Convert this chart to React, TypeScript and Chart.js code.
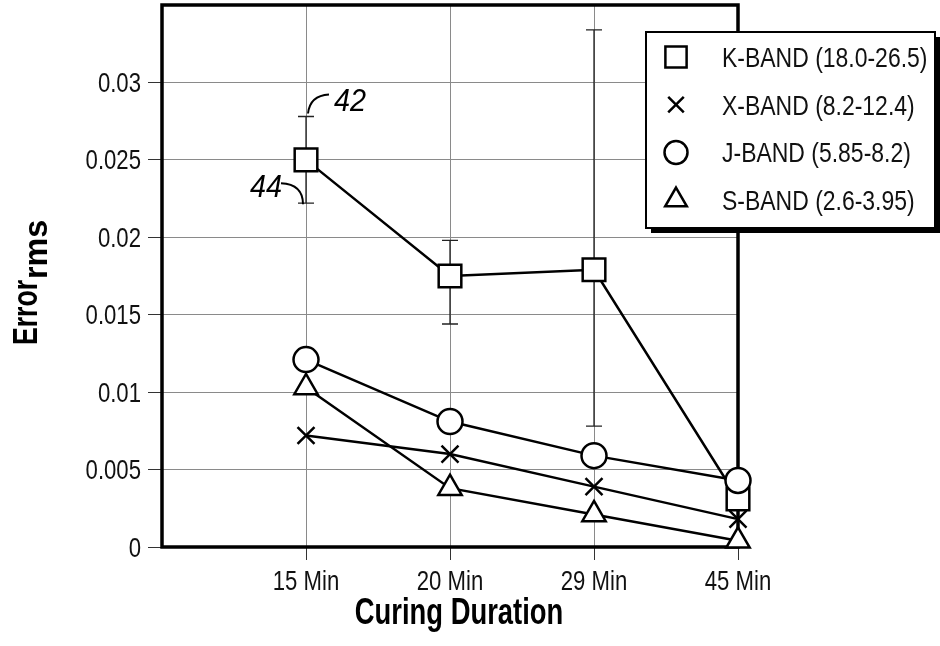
import React, { useEffect, useRef } from 'react';
import { Chart, registerables } from 'chart.js';
import { drawPoint } from 'chart.js/helpers';

Chart.register(...registerables);

const categories = ['15 Min', '20 Min', '29 Min', '45 Min'];
const kBand = [0.025, 0.0175, 0.0179, 0.0031];
const xBand = [0.0072, 0.006, 0.0039, 0.0018];
const jBand = [0.0121, 0.0081, 0.0059, 0.0043];
const sBand = [0.0103, 0.0038, 0.0021, 0.0004];
const kErrLow: (number | null)[] = [0.0222, 0.0144, 0.0078, null];
const kErrHigh: (number | null)[] = [0.0278, 0.0198, 0.0334, null];
const seriesNames = ['K-BAND (18.0-26.5)', 'X-BAND (8.2-12.4)', 'J-BAND (5.85-8.2)', 'S-BAND (2.6-3.95)'];
const yTicks = [0, 0.005, 0.01, 0.015, 0.02, 0.025, 0.03];
const yTickLabels = ['0', '0.005', '0.01', '0.015', '0.02', '0.025', '0.03'];
const yMax = 0.035;
const xTitle = 'Curing Duration';
const yTitleMain = 'Error';
const yTitleSub = 'rms';
const callouts = ['42', '44'];

const FONT = '"Liberation Sans", Arial, sans-serif';

const styles = [
  { pointStyle: 'rect', radius: 16 },
  { pointStyle: 'crossRot', radius: 12 },
  { pointStyle: 'circle', radius: 12.5 },
  { pointStyle: 'triangle', radius: 13.5 },
];
const seriesValues = [kBand, xBand, jBand, sBand];
const orders = [4, 3, 1, 2];

function drawScaled(ctx: CanvasRenderingContext2D, text: string, x: number, y: number, align: CanvasTextAlign, font: string, sx: number) {
  ctx.save();
  ctx.translate(x, y);
  ctx.scale(sx, 1);
  ctx.font = font;
  ctx.textAlign = align;
  ctx.textBaseline = 'alphabetic';
  ctx.fillText(text, 0, 0);
  ctx.restore();
}

const framePlugin = {
  id: 'frameAndErrors',
  beforeDatasetsDraw(chart: any) {
    const { ctx, chartArea } = chart;
    const xs = chart.scales.x;
    const ys = chart.scales.y;
    ctx.save();
    ctx.strokeStyle = '#222';
    ctx.lineWidth = 1.3;
    for (let i = 0; i < categories.length; i++) {
      const lo = kErrLow[i];
      const hi = kErrHigh[i];
      if (lo == null || hi == null) continue;
      const x = xs.getPixelForValue(i + 1);
      const yl = ys.getPixelForValue(lo);
      const yh = ys.getPixelForValue(hi);
      ctx.beginPath();
      ctx.moveTo(x, yl);
      ctx.lineTo(x, yh);
      ctx.moveTo(x - 8, yl);
      ctx.lineTo(x + 8, yl);
      ctx.moveTo(x - 8, yh);
      ctx.lineTo(x + 8, yh);
      ctx.stroke();
    }
    ctx.strokeStyle = '#000';
    ctx.lineWidth = 3.5;
    ctx.strokeRect(chartArea.left, chartArea.top, chartArea.right - chartArea.left, chartArea.bottom - chartArea.top);
    ctx.restore();
  },
  afterDraw(chart: any) {
    const { ctx, chartArea } = chart;
    const xs = chart.scales.x;
    const ys = chart.scales.y;
    ctx.save();
    ctx.fillStyle = '#111';
    const tickFont = `27px ${FONT}`;
    yTicks.forEach((v, i) => {
      const y = ys.getPixelForValue(v);
      drawScaled(ctx, yTickLabels[i], chartArea.left - 21, y + 9.5, 'right', tickFont, 0.82);
    });
    categories.forEach((c, i) => {
      const x = xs.getPixelForValue(i + 1);
      drawScaled(ctx, c, x, chartArea.bottom + 43, 'center', tickFont, 0.82);
    });

    // callouts
    const x0 = xs.getPixelForValue(1);
    const yHi = ys.getPixelForValue(kErrHigh[0] as number);
    const yLo = ys.getPixelForValue(kErrLow[0] as number);
    ctx.strokeStyle = '#000';
    ctx.lineWidth = 2;
    ctx.beginPath();
    ctx.moveTo(x0 + 2, yHi - 3);
    ctx.quadraticCurveTo(x0 + 4, yHi - 21, x0 + 23, yHi - 22);
    ctx.stroke();
    ctx.beginPath();
    ctx.moveTo(x0 - 25, yLo - 20);
    ctx.quadraticCurveTo(x0 - 3, yLo - 19, x0 - 3, yLo + 1);
    ctx.stroke();
    ctx.fillStyle = '#000';
    drawScaled(ctx, callouts[0], x0 + 28, yHi - 5, 'left', `italic 32px ${FONT}`, 0.9);
    drawScaled(ctx, callouts[1], x0 - 24, yLo - 6, 'right', `italic 32px ${FONT}`, 0.9);

    // legend
    const bx = 646, by = 32, bw = 289, bh = 196;
    ctx.fillStyle = '#000';
    ctx.fillRect(bx + 5, by + 5, bw, bh);
    ctx.fillStyle = '#fff';
    ctx.fillRect(bx, by, bw, bh);
    ctx.strokeStyle = '#000';
    ctx.lineWidth = 2;
    ctx.strokeRect(bx, by, bw, bh);
    for (let i = 0; i < seriesNames.length; i++) {
      const cy = by + 25 + i * 47.7;
      ctx.fillStyle = '#fff';
      ctx.strokeStyle = '#000';
      ctx.lineWidth = 2.5;
      drawPoint(ctx, { pointStyle: styles[i].pointStyle as any, radius: i === 1 ? 11 : styles[i].radius - 1, rotation: 0, borderWidth: 2.5 }, bx + 30, cy);
      ctx.fillStyle = '#111';
      drawScaled(ctx, seriesNames[i], bx + 76, cy + 10, 'left', `28px ${FONT}`, 0.82);
    }

    // axis titles
    ctx.fillStyle = '#000';
    drawScaled(ctx, xTitle, 459, 624, 'center', `bold 37px ${FONT}`, 0.74);

    ctx.save();
    ctx.translate(37, 345);
    ctx.rotate(-Math.PI / 2);
    drawScaled(ctx, yTitleMain, 0, 0, 'left', `bold 35px ${FONT}`, 0.76);
    ctx.font = `bold 35px ${FONT}`;
    const w = ctx.measureText(yTitleMain).width * 0.76;
    drawScaled(ctx, yTitleSub, w + 1, 10, 'left', `bold 34px ${FONT}`, 0.95);
    ctx.restore();

    ctx.restore();
  },
};

export default function App() {
  const ref = useRef<HTMLCanvasElement | null>(null);
  useEffect(() => {
    document.body.style.margin = '0';
    const canvas = ref.current;
    if (!canvas) return;
    const datasets = seriesNames.map((name, s) => ({
      label: name,
      data: categories.map((_, i) => ({ x: i + 1, y: seriesValues[s][i] })),
      borderColor: '#000',
      borderWidth: 2.5,
      backgroundColor: '#fff',
      pointStyle: styles[s].pointStyle,
      pointRadius: styles[s].radius,
      pointHoverRadius: styles[s].radius,
      pointBackgroundColor: '#fff',
      pointBorderColor: '#000',
      pointBorderWidth: 2.5,
      tension: 0,
      fill: false,
      clip: false,
      order: orders[s],
    }));
    const chart = new Chart(canvas, {
      type: 'line',
      data: { datasets },
      options: {
        responsive: false,
        animation: false,
        devicePixelRatio: 1,
        layout: { autoPadding: false, padding: { left: 0, top: 5, right: 202, bottom: 0 } },
        plugins: { legend: { display: false }, tooltip: { enabled: false } },
        scales: {
          x: {
            type: 'linear',
            min: 0,
            max: categories.length,
            afterBuildTicks: (scale: any) => {
              scale.ticks = categories.map((_, i) => ({ value: i + 1 }));
            },
            afterFit: (scale: any) => {
              scale.height = 99;
              scale.paddingLeft = 0;
              scale.paddingRight = 0;
            },
            ticks: { display: false },
            grid: { color: '#8a8a8a', tickColor: '#333', lineWidth: 1, tickLength: 13, drawTicks: true },
            border: { display: false },
          },
          y: {
            type: 'linear',
            min: 0,
            max: yMax,
            afterBuildTicks: (scale: any) => {
              scale.ticks = yTicks.map((v) => ({ value: v }));
            },
            afterFit: (scale: any) => {
              scale.width = 162;
              scale.paddingTop = 0;
              scale.paddingBottom = 0;
            },
            ticks: { display: false },
            grid: { color: '#8a8a8a', tickColor: '#333', lineWidth: 1, tickLength: 14, drawTicks: true },
            border: { display: false },
          },
        },
      },
      plugins: [framePlugin],
    } as any);
    return () => chart.destroy();
  }, []);
  return (
    <div style={{ width: 940, height: 646 }}>
      <canvas ref={ref} width={940} height={646} />
    </div>
  );
}
